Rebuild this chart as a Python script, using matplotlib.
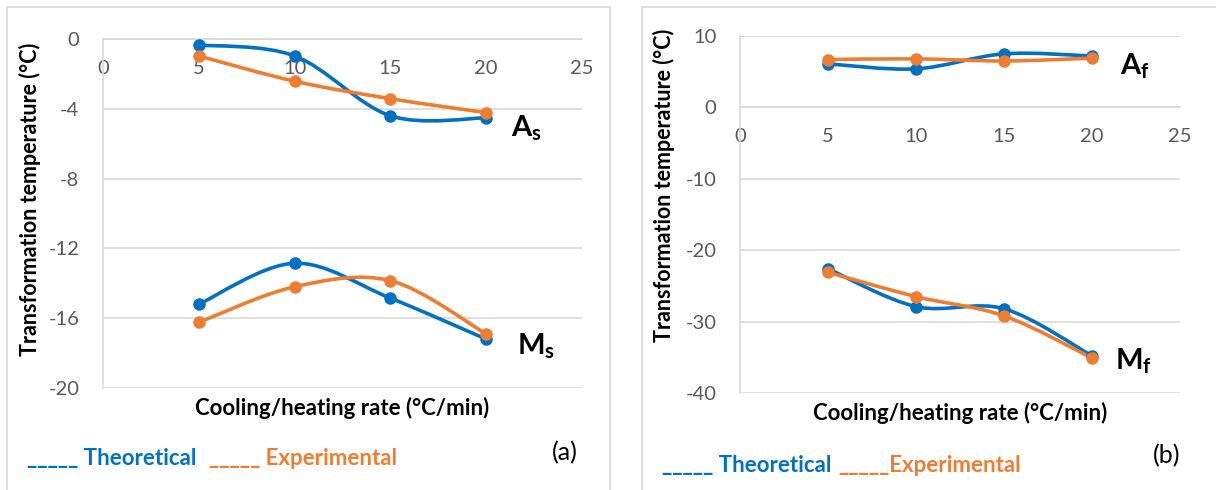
import matplotlib
matplotlib.use("Agg")
import matplotlib.pyplot as plt
from matplotlib.path import Path
from matplotlib.patches import PathPatch, Rectangle

rate = [5, 10, 15, 20]

# panel (a)
as_theo = [-0.34, -0.97, -4.40, -4.52]
as_exp = [-0.97, -2.42, -3.42, -4.22]
ms_theo = [-15.2, -12.85, -14.85, -17.2]
ms_exp = [-16.24, -14.2, -13.85, -16.9]

# panel (b)
af_theo = [6.1, 5.4, 7.5, 7.2]
af_exp = [6.7, 6.8, 6.5, 6.9]
mf_theo = [-22.6, -27.9, -28.2, -34.8]
mf_exp = [-23.1, -26.5, -29.2, -35.1]

BLUE = "#0070C0"
ORANGE = "#ED7D31"
GRID = "#D9D9D9"
TICK = "#595959"
FONT = "Lato"

plt.rcParams["font.family"] = [FONT, "DejaVu Sans"]
plt.rcParams["axes.unicode_minus"] = False
plt.rcParams["mathtext.fontset"] = "custom"
plt.rcParams["mathtext.bf"] = FONT + ":bold"
plt.rcParams["mathtext.rm"] = FONT

W, H = 1216, 490


def smooth_line(ax, xs, ys, color):
    # excel style smoothed line: catmull-rom turned into cubic beziers
    pts = list(zip(xs, ys))
    n = len(pts)
    verts = [pts[0]]
    codes = [Path.MOVETO]
    for i in range(n - 1):
        p0 = pts[max(i - 1, 0)]
        p1 = pts[i]
        p2 = pts[i + 1]
        p3 = pts[min(i + 2, n - 1)]
        c1 = (p1[0] + (p2[0] - p0[0]) / 6, p1[1] + (p2[1] - p0[1]) / 6)
        c2 = (p2[0] - (p3[0] - p1[0]) / 6, p2[1] - (p3[1] - p1[1]) / 6)
        verts += [c1, c2, p2]
        codes += [Path.CURVE4] * 3
    ax.add_patch(PathPatch(Path(verts, codes), facecolor="none", edgecolor=color,
                           linewidth=2.6, capstyle="round", zorder=3))
    ax.plot(xs, ys, "o", color=color, markersize=8, zorder=4)


def px_axes(fig, l, t, r, b):
    return fig.add_axes([l / W, 1 - b / H, (r - l) / W, (b - t) / H])


def setup(ax, ymin, ymax, step):
    ax.set_xlim(0, 25)
    ax.set_ylim(ymin, ymax)
    ax.set_xticks(range(0, 26, 5))
    ax.set_yticks(range(ymin, ymax + 1, step))
    ax.grid(axis="y", color=GRID, linewidth=1.2)
    ax.set_axisbelow(True)
    for s in ["top", "right"]:
        ax.spines[s].set_visible(False)
    ax.spines["left"].set_color(GRID)
    ax.spines["bottom"].set_color(GRID)
    ax.spines["left"].set_linewidth(1.2)
    ax.spines["bottom"].set_linewidth(1.2)
    ax.spines["bottom"].set_position(("data", 0))
    ax.tick_params(axis="x", length=0, pad=15, labelsize=14.5, labelcolor=TICK)
    ax.tick_params(axis="y", length=0, pad=17, labelsize=14.5, labelcolor=TICK)
    ax.set_facecolor("none")


fig = plt.figure(figsize=(W / 100, H / 100), dpi=100)

# panel borders
fig.add_artist(Rectangle((7 / W, -0.05), (610 - 7) / W, 1.05 - 7 / H, transform=fig.transFigure,
                         fill=False, edgecolor=GRID, linewidth=1.2))
fig.add_artist(Rectangle((642 / W, -0.05), 0.5, 1.05 - 7 / H, transform=fig.transFigure,
                         fill=False, edgecolor=GRID, linewidth=1.2))

# (a)
ax1 = px_axes(fig, 103, 39, 582, 388)
setup(ax1, -20, 0, 4)
smooth_line(ax1, rate, as_theo, BLUE)
smooth_line(ax1, rate, as_exp, ORANGE)
smooth_line(ax1, rate, ms_theo, BLUE)
smooth_line(ax1, rate, ms_exp, ORANGE)
ax1.text(21.3, -5.1, r"$\mathbf{A}_\mathbf{s}$", fontsize=21, ha="left", va="center")
ax1.text(21.6, -17.6, r"$\mathbf{M}_\mathbf{s}$", fontsize=21, ha="left", va="center")

# (b)
ax2 = px_axes(fig, 740, 36, 1180, 393)
setup(ax2, -40, 10, 10)
smooth_line(ax2, rate, af_theo, BLUE)
smooth_line(ax2, rate, af_exp, ORANGE)
smooth_line(ax2, rate, mf_theo, BLUE)
smooth_line(ax2, rate, mf_exp, ORANGE)
ax2.text(21.6, 5.8, r"$\mathbf{A}_\mathbf{f}$", fontsize=21, ha="left", va="center")
ax2.text(21.3, -35.6, r"$\mathbf{M}_\mathbf{f}$", fontsize=21, ha="left", va="center")

ylab = "Transformation temperature (°C)"
xlab = "Cooling/heating rate (°C/min)"
fig.text(30 / W, 1 - 199 / H, ylab, rotation=90, ha="center", va="center",
         fontsize=15.5, fontweight="bold")
fig.text(664 / W, 1 - 185 / H, ylab, rotation=90, ha="center", va="center",
         fontsize=15.5, fontweight="bold")
fig.text(342 / W, 1 - 408 / H, xlab, ha="center", va="center", fontsize=16, fontweight="bold")
fig.text(960 / W, 1 - 413 / H, xlab, ha="center", va="center", fontsize=16, fontweight="bold")

# hand made legends
fig.text(27 / W, 1 - 458 / H, "_____ Theoretical", color=BLUE, fontsize=16,
         fontweight="bold", va="center")
fig.text(209 / W, 1 - 458 / H, "_____ Experimental", color=ORANGE, fontsize=16,
         fontweight="bold", va="center")
fig.text(662 / W, 1 - 465 / H, "_____ Theoretical", color=BLUE, fontsize=16,
         fontweight="bold", va="center")
fig.text(838 / W, 1 - 465 / H, "_____Experimental", color=ORANGE, fontsize=16,
         fontweight="bold", va="center")

fig.text(565 / W, 1 - 453 / H, "(a)", fontsize=18, ha="center", va="center")
fig.text(1167 / W, 1 - 456 / H, "(b)", fontsize=18, ha="center", va="center")

fig.savefig("out.png", dpi=100)
